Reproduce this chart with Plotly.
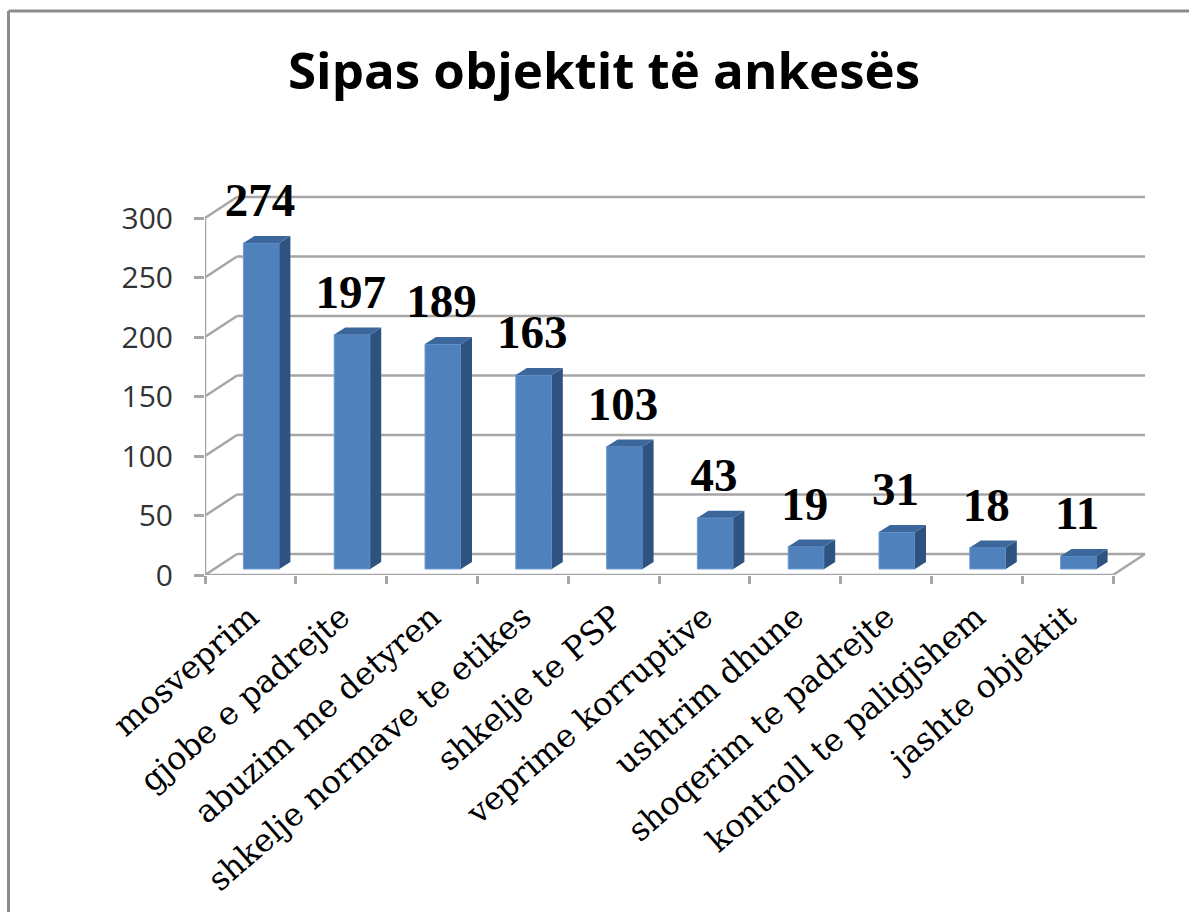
import plotly.graph_objects as go

categories = ["mosveprim", "gjobe e padrejte", "abuzim me detyren", "shkelje normave te etikes",
              "shkelje te PSP", "veprime korruptive", "ushtrim dhune", "shoqerim te padrejte",
              "kontroll te paligjshem", "jashte objektit"]
values = [274, 197, 189, 163, 103, 43, 19, 31, 18, 11]
y_ticks = [0, 50, 100, 150, 200, 250, 300]
title_text = "Sipas objektit të ankesës"

W, H = 1189, 912
L, R, T, B = 205, 1147, 194, 575
n = len(categories)
ux = (1113 - 205) / n          # px per category
uy = 357 / 300                 # px per value unit
DX, DY = 32 / ux, 21 / uy      # floor depth in data units
OX, OY = 11 / ux, 6 / uy       # bar front-plane offset
HW = 18 / ux                   # bar half width
SX, SY = 11 / ux, 7 / uy       # bar depth

GRID = "#A6A6A6"
FRONT, SIDE, TOP = "#4F81BD", "#2F5380", "#3B679C"

fig = go.Figure()

# walls and gridlines behind the bars
grid_shapes = []
for v in y_ticks:
    grid_shapes.append(dict(type="line", xref="x", yref="y", layer="below",
                            x0=-0.5, y0=v, x1=-0.5 + DX, y1=v + DY, line=dict(color=GRID, width=2.5)))
    grid_shapes.append(dict(type="line", xref="x", yref="y", layer="below",
                            x0=-0.5 + DX, y0=v + DY, x1=n - 0.5 + DX, y1=v + DY, line=dict(color=GRID, width=2.5)))

# front axis lines
fig.add_trace(go.Scatter(x=[-0.5, -0.5, None, -0.5, n - 0.5, n - 0.5 + DX],
                         y=[0, 300, None, 0, 0, DY], mode="lines", line=dict(color=GRID, width=2.5),
                         hoverinfo="skip", showlegend=False, cliponaxis=False))

# front faces
fig.add_trace(go.Bar(x=[i + OX for i in range(n)], y=values, base=[OY] * n, width=2 * HW,
                     marker=dict(color=FRONT, line=dict(color="#6F9BD1", width=1)),
                     showlegend=False, hoverinfo="skip"))

# side and top faces
sx, sy, tx, ty = [], [], [], []
for i, v in enumerate(values):
    l, r = i + OX - HW, i + OX + HW
    b, t = OY, OY + v
    sx += [r, r + SX, r + SX, r, r, None]
    sy += [b, b + SY, t + SY, t, b, None]
    tx += [l, l + SX, r + SX, r, l, None]
    ty += [t, t + SY, t + SY, t, t, None]
fig.add_trace(go.Scatter(x=sx, y=sy, mode="lines", fill="toself", fillcolor=SIDE, line=dict(width=0, color=SIDE),
                         hoverinfo="skip", showlegend=False))
fig.add_trace(go.Scatter(x=tx, y=ty, mode="lines", fill="toself", fillcolor=TOP, line=dict(width=0, color=TOP),
                         hoverinfo="skip", showlegend=False))

# value labels
fig.add_trace(go.Scatter(x=[i + OX - 1.5 / ux for i in range(n)], y=[v + OY + 12.7 for v in values],
                         text=[str(v) for v in values], mode="text", textposition="top center",
                         textfont=dict(family="Liberation Serif", size=47, color="#000000"),
                         texttemplate="<b>%{text}</b>", hoverinfo="skip", showlegend=False, cliponaxis=False))

# invisible trace on the second x axis so its boundary ticks show
fig.add_trace(go.Scatter(x=[0], y=[0], xaxis="x2", mode="markers", opacity=0, hoverinfo="skip", showlegend=False))

x_range = [-0.5, -0.5 + (R - L) / ux]
y_top = (B - T) / uy
border_y = 1 + (T - 11) / (B - T)
border_x = -(L - 8.5) / (R - L)
fig.update_layout(
    width=W, height=H, margin=dict(l=L, r=W - R, t=T, b=H - B),
    paper_bgcolor="white", plot_bgcolor="white", showlegend=False,
    annotations=[dict(text=f"<b>{title_text}</b>", xref="paper", yref="paper", x=(604 - L) / (R - L),
                      y=1 + (T - 69) / (B - T), xanchor="center", yanchor="middle", showarrow=False,
                      font=dict(family="Open Sans", size=51, color="#000000"))],
    xaxis=dict(range=x_range, tickmode="array", tickvals=list(range(n)), ticktext=categories, tickangle=-41,
               ticks="", showgrid=False, zeroline=False, showline=False, ticklabelstandoff=16,
               tickfont=dict(family="DejaVu Serif", size=32, color="#000000")),
    xaxis2=dict(range=x_range, overlaying="x", side="bottom", tickmode="array",
                tickvals=[i - 0.5 for i in range(n + 1)], ticktext=[""] * (n + 1),
                ticks="outside", ticklen=8, tickwidth=2.5, tickcolor=GRID, showgrid=False, zeroline=False),
    yaxis=dict(range=[0, y_top], tickmode="array", tickvals=y_ticks, ticks="outside", ticklen=10, tickwidth=2.5,
               tickcolor=GRID, showgrid=False, zeroline=False, showline=False, ticklabelstandoff=15,
               tickfont=dict(family="Open Sans", size=30, color="#333333")),
    shapes=grid_shapes + [
        dict(type="line", xref="paper", yref="paper", x0=border_x, x1=(W - L) / (R - L),
             y0=border_y, y1=border_y, line=dict(color="#8C8C8C", width=3)),
        dict(type="line", xref="paper", yref="paper", x0=border_x, x1=border_x,
             y0=border_y, y1=-(H - B) / (B - T), line=dict(color="#8C8C8C", width=3)),
    ],
)

fig.write_html("out.html", config=dict(displayModeBar=False),
               post_script="document.body.style.margin='0';document.body.style.overflow='hidden';")
